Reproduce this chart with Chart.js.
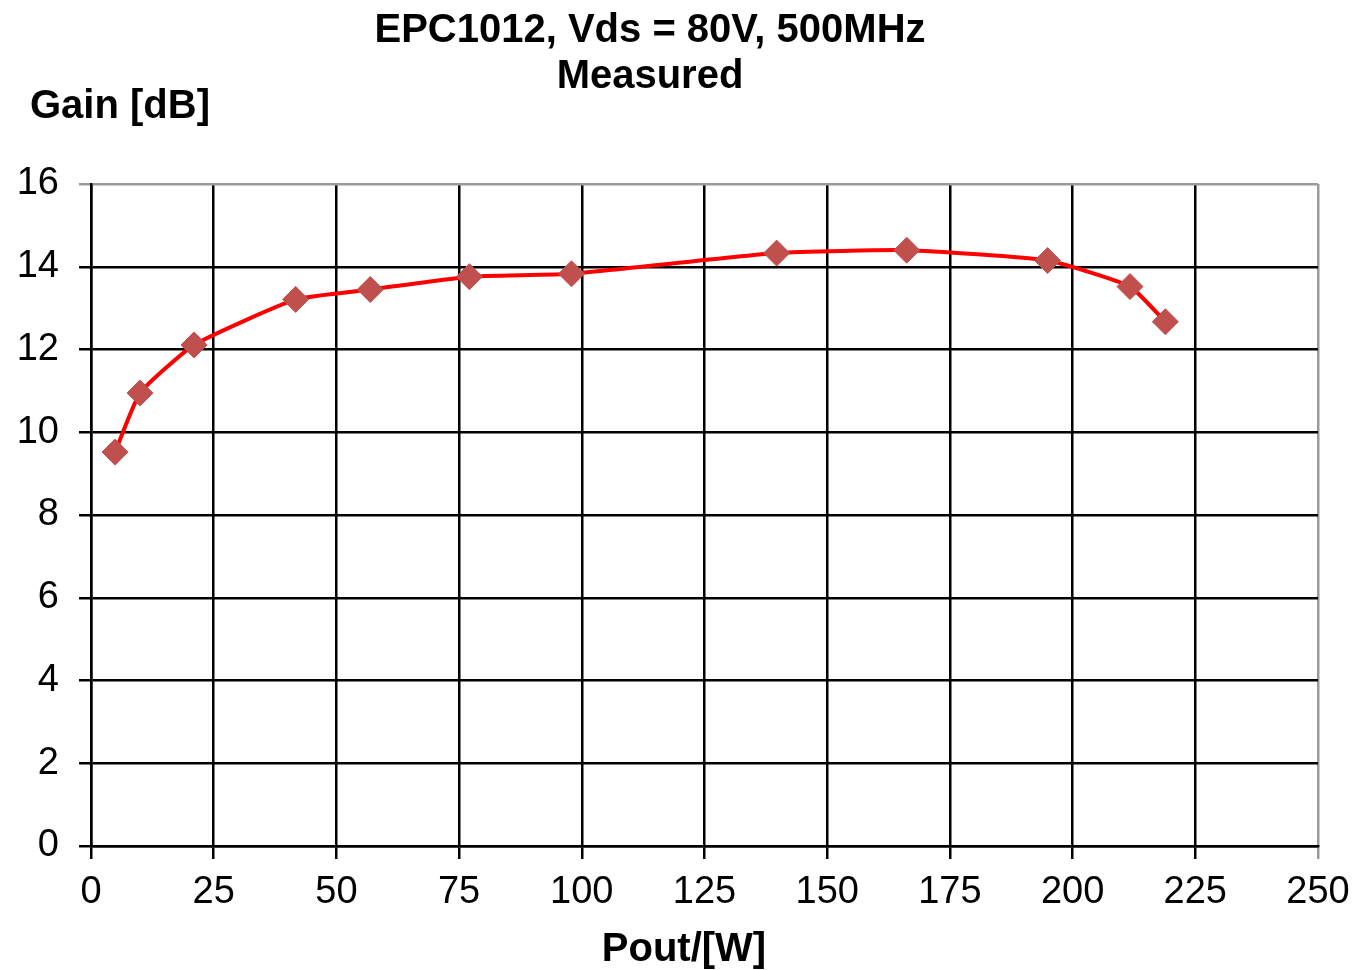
<!DOCTYPE html>
<html>
<head>
<meta charset="utf-8">
<script src="https://cdn.jsdelivr.net/npm/chart.js@4/dist/chart.umd.min.js"></script>
<style>
  html, body { margin: 0; padding: 0; background: #ffffff; }
  #wrap { width: 1359px; height: 970px; position: relative; }
</style>
</head>
<body>
<div id="wrap"><canvas id="c" width="1359" height="970"></canvas></div>
<script>
const titleLines = ['EPC1012, Vds = 80V, 500MHz', 'Measured'];
const yAxisTitle = 'Gain [dB]';
const xAxisTitle = 'Pout/[W]';
const pout = [4.9, 10.0, 21.0, 41.7, 56.9, 77.1, 97.9, 139.7, 166.2, 194.9, 211.7, 218.9];
const gain = [9.52, 10.95, 12.11, 13.21, 13.45, 13.76, 13.83, 14.33, 14.40, 14.15, 13.52, 12.67];
const xMin = 0, xMax = 250, xStep = 25;
const yMin = 0, yMax = 16, yStep = 2;

const FONT = "'Liberation Sans', Arial, sans-serif";

const textPlugin = {
  id: 'texts',
  afterDraw(chart) {
    const ctx = chart.ctx;
    ctx.save();
    ctx.fillStyle = '#000000';
    ctx.font = 'bold 40px ' + FONT;
    ctx.textAlign = 'center';
    ctx.textBaseline = 'alphabetic';
    ctx.fillText(titleLines[0], 650, 42);
    ctx.fillText(titleLines[1], 650, 88);
    ctx.textAlign = 'left';
    ctx.fillText(yAxisTitle, 30, 118);
    ctx.textAlign = 'center';
    ctx.fillText(xAxisTitle, 684, 961);
    ctx.restore();
  }
};

const points = pout.map((x, i) => ({ x: x, y: gain[i] }));

new Chart(document.getElementById('c'), {
  type: 'line',
  data: {
    datasets: [{
      data: points,
      borderColor: '#FF0000',
      borderWidth: 4,
      tension: 0.15,
      pointStyle: 'rectRot',
      pointRadius: 13,
      pointHoverRadius: 13,
      pointBackgroundColor: '#C0504D',
      pointBorderColor: '#C0504D',
      pointBorderWidth: 1,
      fill: false
    }]
  },
  options: {
    responsive: false,
    animation: false,
    devicePixelRatio: 1,
    layout: { padding: { top: 184, right: 41, bottom: 0, left: 0 } },
    plugins: {
      legend: { display: false },
      title: { display: false },
      tooltip: { enabled: false }
    },
    scales: {
      x: {
        type: 'linear',
        min: xMin, max: xMax,
        afterFit(scale) { scale.height = 124; scale.paddingRight = 0; scale.paddingLeft = 0; },
        ticks: {
          stepSize: xStep,
          color: '#000000',
          font: { family: FONT, size: 38 },
          padding: 11,
          maxRotation: 0
        },
        grid: {
          color: (c) => (c.tick && c.tick.value === xMax) ? '#9a9a9a' : '#000000',
          lineWidth: 2.5,
          tickLength: 13,
          drawTicks: true
        },
        border: { color: '#000000', width: 2.5 }
      },
      y: {
        type: 'linear',
        min: yMin, max: yMax,
        afterFit(scale) { scale.width = 91; },
        ticks: {
          stepSize: yStep,
          color: '#000000',
          font: { family: FONT, size: 38 },
          padding: 20
        },
        grid: {
          color: (c) => (c.tick && c.tick.value === yMax) ? '#9a9a9a' : '#000000',
          lineWidth: 2.5,
          tickLength: 12
        },
        border: { color: '#000000', width: 2.5 }
      }
    }
  },
  plugins: [textPlugin]
});
</script>
</body>
</html>
